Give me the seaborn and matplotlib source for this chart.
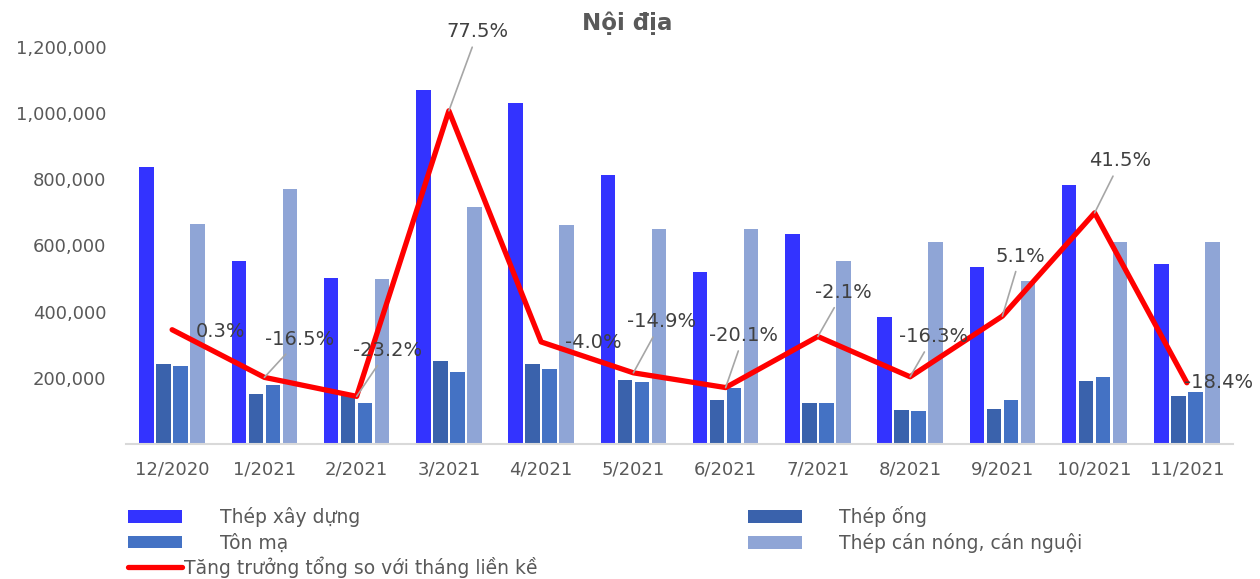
import numpy as np
import pandas as pd
import seaborn as sns
import matplotlib.pyplot as plt
from matplotlib.patches import Patch
from matplotlib.lines import Line2D

sns.set_style('white')
plt.rcParams['font.family'] = ['DejaVu Sans']

months = ['12/2020', '1/2021', '2/2021', '3/2021', '4/2021', '5/2021',
          '6/2021', '7/2021', '8/2021', '9/2021', '10/2021', '11/2021']
series_names = ['Thép xây dựng', 'Thép ống', 'Tôn mạ', 'Thép cán nóng, cán nguội']
thep_xay_dung = [838000, 553000, 502000, 1070000, 1030000, 812000,
                 520000, 636000, 385000, 534000, 782000, 545000]
thep_ong = [243000, 150000, 148000, 250000, 243000, 193000,
            132000, 123000, 102000, 106000, 190000, 145000]
ton_ma = [235000, 177000, 123000, 218000, 228000, 187000,
          170000, 125000, 100000, 132000, 202000, 158000]
can_nong_nguoi = [664000, 771000, 500000, 716000, 662000, 650000,
                  650000, 554000, 612000, 492000, 612000, 610000]
growth = [0.3, -16.5, -23.2, 77.5, -4.0, -14.9, -20.1, -2.1, -16.3, 5.1, 41.5, -18.4]
line_name = 'Tăng trưởng tổng so với tháng liền kề'
yticks = [200000, 400000, 600000, 800000, 1000000, 1200000]

colors = ['#3333FF', '#3A62AC', '#4472C4', '#8FA5D6']

# label offsets from the point (pixels, y up) and whether a leader line is drawn
label_offsets = [(48, -2), (35, 38), (31, 46), (29, 79), (52, -1), (28, 51),
                 (18, 52), (25, 44), (23, 40), (18, 60), (26, 52), (32, 0)]
leader = [False, True, True, True, False, True, True, True, True, True, True, False]

df = pd.DataFrame({
    'month': months * 4,
    'type': sum([[n] * len(months) for n in series_names], []),
    'value': thep_xay_dung + thep_ong + ton_ma + can_nong_nguoi,
})

W, H = 1260, 579
fig = plt.figure(figsize=(W / 100, H / 100), dpi=100)
ax = fig.add_axes([126 / W, 1 - 444 / H, (1233 - 126) / W, (444 - 47) / H])

sns.barplot(data=df, x='month', y='value', hue='type', hue_order=series_names,
            palette=colors, saturation=1, width=0.735, gap=0.15, linewidth=0,
            legend=False, ax=ax)
ax.set_xlim(-0.5, len(months) - 0.5)
ax.set_ylim(0, 1200000)
ax.set_yticks(yticks)
ax.set_yticklabels([f'{v:,}' for v in yticks])
ax.set_xlabel('')
ax.set_ylabel('')
ax.tick_params(axis='y', length=0, pad=14, labelsize=13, labelcolor='#595959')
ax.tick_params(axis='x', length=0, pad=12, labelsize=13, labelcolor='#595959')
for s in ['top', 'right', 'left']:
    ax.spines[s].set_visible(False)
ax.spines['bottom'].set_color('#D9D9D9')
ax.spines['bottom'].set_linewidth(1.5)

ax2 = ax.twinx()
sns.lineplot(x=np.arange(len(months)), y=growth, color='#FF0000', linewidth=3.8,
             ax=ax2, legend=False)
ax2.set_ylim(-40, 100)
ax2.set_xlim(-0.5, len(months) - 0.5)
ax2.set_yticks([])
ax2.set_ylabel('')
for s in ax2.spines.values():
    s.set_visible(False)

for i, v in enumerate(growth):
    dx, dy = label_offsets[i]
    props = dict(arrowstyle='-', color='#A6A6A6', lw=1.2, shrinkA=2, shrinkB=0) if leader[i] else None
    ax2.annotate(f'{v:.1f}%', xy=(i, v), xytext=(dx * 0.72, dy * 0.72),
                 textcoords='offset points', ha='center', va='center',
                 fontsize=14, color='#404040', arrowprops=props,
                 annotation_clip=False)

fig.text(627.5 / W, 1 - 23 / H, 'Nội địa', ha='center', va='center',
         fontsize=16.5, fontweight='bold', color='#595959')

order = [0, 2, 1, 3]
bar_handles = [Patch(facecolor=colors[k], edgecolor='none') for k in order]
leg1 = fig.legend(bar_handles, [series_names[k] for k in order], ncol=2,
                  loc='upper left', bbox_to_anchor=(128 / W, 1 - 506 / H),
                  frameon=False, fontsize=13.5, handlelength=2.88, handleheight=0.65,
                  handletextpad=2.0, columnspacing=20.7, labelspacing=0.33,
                  borderpad=0, borderaxespad=0, labelcolor='#595959')
leg2 = fig.legend([Line2D([], [], color='#FF0000', linewidth=3.8)], [line_name],
                  loc='upper left', bbox_to_anchor=(128 / W, 1 - 556 / H),
                  frameon=False, fontsize=13.5, handlelength=2.9,
                  handletextpad=0.1, borderpad=0, borderaxespad=0,
                  labelcolor='#595959')

fig.savefig('out.png', dpi=100)
